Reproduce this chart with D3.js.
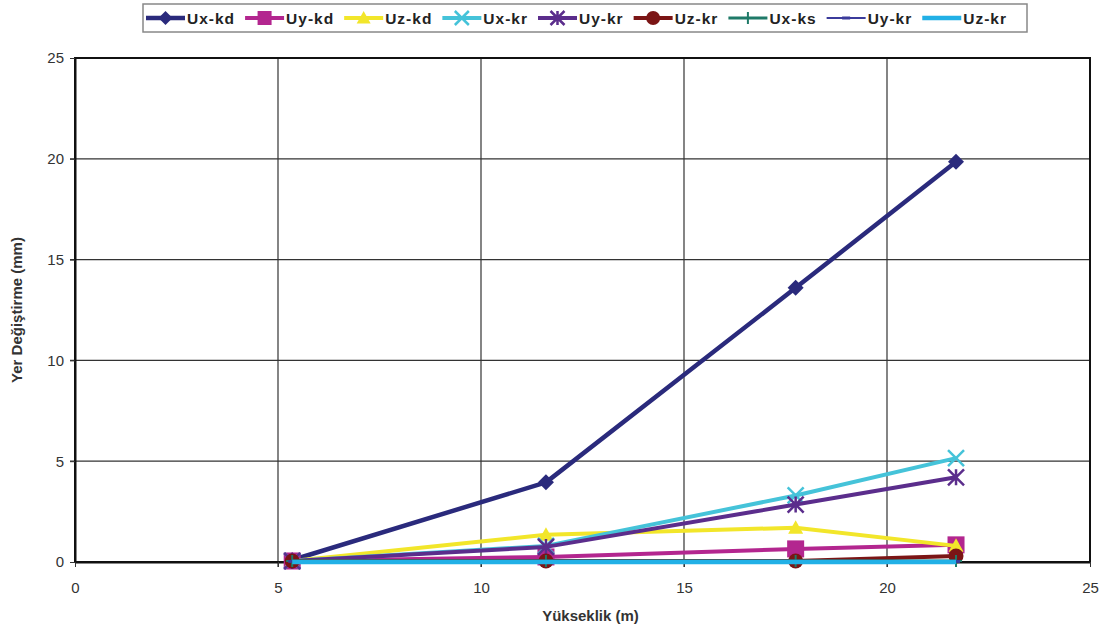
<!DOCTYPE html>
<html><head><meta charset="utf-8">
<script src="https://d3js.org/d3.v7.min.js"></script>
<style>body{margin:0;background:#fff;} svg{display:block;}</style>
</head><body>
<svg id="c" width="1106" height="631"></svg>
<script>
const heights = [5.35, 11.6, 17.75, 21.7];
const seriesNames = ["Ux-kd","Uy-kd","Uz-kd","Ux-kr","Uy-kr","Uz-kr","Ux-ks","Uy-kr","Uz-kr"];
const uxKd = [0.1, 3.95, 13.6, 19.85];
const uyKd = [0.05, 0.25, 0.65, 0.85];
const uzKd = [0.05, 1.35, 1.7, 0.8];
const uxKr = [0.05, 0.8, 3.3, 5.15];
const uyKr = [0.05, 0.75, 2.85, 4.2];
const uzKr = [0.05, 0.05, 0.05, 0.3];
const uxKs = [0.05, 0.05, 0.05, 0.05];
const uyKr2 = [0.03, 0.03, 0.03, 0.03];
const uzKr2 = [0.0, 0.0, 0.0, 0.0];
const xTicks = [0,5,10,15,20,25];
const yTicks = [0,5,10,15,20,25];

const allValues = [uxKd,uyKd,uzKd,uxKr,uyKr,uzKr,uxKs,uyKr2,uzKr2];
const styles = [
 {color:"#2a2a7c", w:4.5, m:"diamond", s:16},
 {color:"#b3268f", w:4, m:"square", s:17},
 {color:"#f2e62a", w:4, m:"triangle", s:15},
 {color:"#45c3d9", w:4, m:"x", s:16},
 {color:"#5b2d8c", w:4, m:"star", s:16},
 {color:"#7b1515", w:4, m:"circle", s:15},
 {color:"#1f7a68", w:3, m:"plus", s:12},
 {color:"#3b3b9b", w:2, m:"dash", s:8},
 {color:"#22b0e6", w:4.5, m:"none", s:0}
];

const svg = d3.select("#c");
const L=75, R=1090, T=58, B=562;
const x = d3.scaleLinear().domain([0,25]).range([L,R]);
const y = d3.scaleLinear().domain([0,25]).range([B,T]);

// grid
svg.append("g").selectAll("line").data(xTicks.slice(1,-1)).join("line")
 .attr("x1",d=>x(d)).attr("x2",d=>x(d)).attr("y1",T).attr("y2",B+5)
 .attr("stroke","#333").attr("stroke-width",1.2);
svg.append("g").selectAll("line").data(yTicks.slice(1,-1)).join("line")
 .attr("x1",L-5).attr("x2",R).attr("y1",d=>y(d)).attr("y2",d=>y(d))
 .attr("stroke","#333").attr("stroke-width",1.2);

// frame
svg.append("rect").attr("x",L).attr("y",T).attr("width",R-L).attr("height",B-T)
 .attr("fill","none").attr("stroke","#111").attr("stroke-width",2);

// axes
const xa = svg.append("g").attr("transform",`translate(0,${B})`)
 .call(d3.axisBottom(x).tickValues(xTicks).tickSize(5).tickSizeOuter(0).tickPadding(15));
const ya = svg.append("g").attr("transform",`translate(${L},0)`)
 .call(d3.axisLeft(y).tickValues(yTicks).tickSize(5).tickSizeOuter(0).tickPadding(6));
[xa,ya].forEach(a=>{
 a.select(".domain").attr("stroke","#111").attr("stroke-width",2);
 a.selectAll(".tick line").attr("stroke","#333");
 a.selectAll(".tick text").attr("font-family","Liberation Sans, Arial, sans-serif")
  .attr("font-size",15).attr("fill","#333");
});

svg.append("text").attr("x",(L+R)/2+8).attr("y",621).attr("text-anchor","middle")
 .attr("font-family","Liberation Sans, Arial, sans-serif").attr("font-weight","bold")
 .attr("font-size",15).attr("fill","#333").text("Yükseklik (m)");
svg.append("text").attr("transform",`translate(22,${(T+B)/2}) rotate(-90)`).attr("text-anchor","middle")
 .attr("font-family","Liberation Sans, Arial, sans-serif").attr("font-weight","bold")
 .attr("font-size",15).attr("fill","#333").text("Yer Değiştirme (mm)");

function marker(g, type, s, color){
 const h=s/2;
 switch(type){
  case "diamond": g.append("path").attr("d",`M0,${-h}L${h},0L0,${h}L${-h},0Z`).attr("fill",color); break;
  case "square": g.append("rect").attr("x",-h).attr("y",-h).attr("width",s).attr("height",s).attr("fill",color); break;
  case "triangle": g.append("path").attr("d",`M0,${-h}L${h},${h*0.8}L${-h},${h*0.8}Z`).attr("fill",color); break;
  case "circle": g.append("circle").attr("r",h).attr("fill",color); break;
  case "x": g.append("path").attr("d",`M${-h},${-h}L${h},${h}M${-h},${h}L${h},${-h}`).attr("stroke",color).attr("stroke-width",2.5); break;
  case "star": g.append("path").attr("d",`M${-h},${-h}L${h},${h}M${-h},${h}L${h},${-h}M0,${-h}L0,${h}`).attr("stroke",color).attr("stroke-width",2.5); break;
  case "plus": g.append("path").attr("d",`M${-h},0L${h},0M0,${-h}L0,${h}`).attr("stroke",color).attr("stroke-width",2); break;
  case "dash": g.append("path").attr("d",`M${-h},0L${h},0`).attr("stroke",color).attr("stroke-width",3); break;
 }
}

const line = d3.line().x((d,i)=>x(heights[i])).y(d=>y(d));
allValues.forEach((vals,k)=>{
 const st=styles[k];
 const g=svg.append("g");
 g.append("path").datum(vals).attr("d",line).attr("fill","none")
  .attr("stroke",st.color).attr("stroke-width",st.w).attr("stroke-linejoin","round");
 vals.forEach((v,i)=>{
  const mg=g.append("g").attr("transform",`translate(${x(heights[i])},${y(v)})`);
  marker(mg,st.m,st.s,st.color);
 });
});

// legend
const lg = svg.append("g");
lg.append("rect").attr("x",143).attr("y",4).attr("width",884).attr("height",28)
 .attr("fill","#fff").attr("stroke","#888").attr("stroke-width",1.5);
let cx = 146;
seriesNames.forEach((n,k)=>{
 const st=styles[k];
 const it=lg.append("g");
 it.append("line").attr("x1",cx).attr("x2",cx+39).attr("y1",18).attr("y2",18)
  .attr("stroke",st.color).attr("stroke-width",st.w);
 const mg=it.append("g").attr("transform",`translate(${cx+19.5},18)`);
 marker(mg,st.m,Math.min(st.s,14),st.color);
 const t=it.append("text").attr("x",cx+41).attr("y",24).text(n)
  .attr("font-family","Liberation Sans, Arial, sans-serif").attr("font-weight","bold")
  .attr("font-size",15.5).attr("fill","#222").attr("letter-spacing",1);
 const w=t.node().getComputedTextLength();
 cx += 41 + w + 10;
});
</script>
</body></html>
